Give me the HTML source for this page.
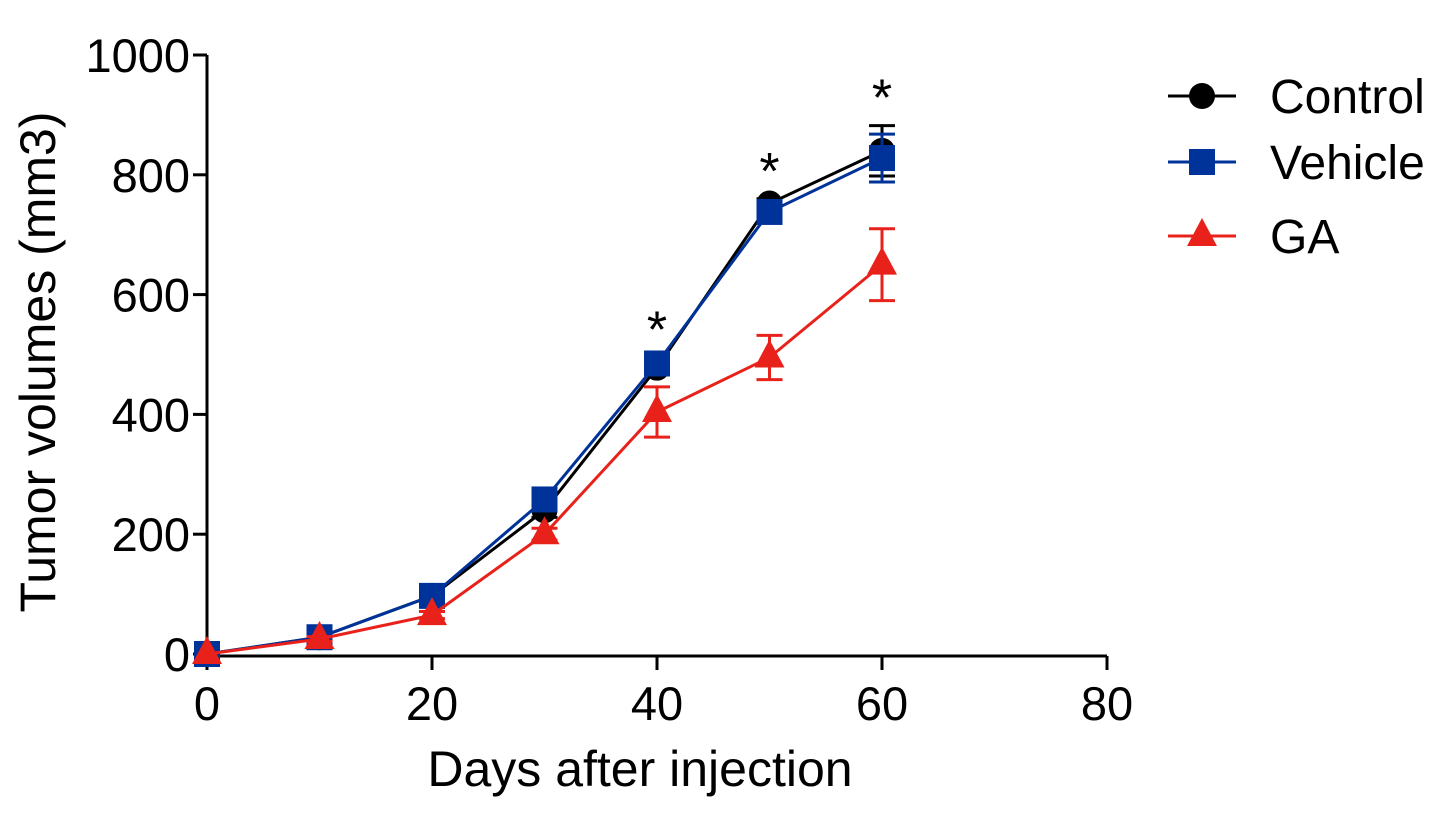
<!DOCTYPE html>
<html><head><meta charset="utf-8"><style>
body{margin:0;background:#fff;width:1446px;height:830px;overflow:hidden}
text{font-family:"Liberation Sans",Arial,sans-serif}
</style></head><body>
<svg id="chart" width="1446" height="830" xmlns="http://www.w3.org/2000/svg"></svg>
<script>
const days=[0,10,20,30,40,50,60];
const controlVals=[0,28,97,240,478,752,840];
const controlErr=[0,4,6,12,10,8,42];
const vehicleVals=[0,28,97,258,485,738,828];
const vehicleErr=[0,4,6,12,10,8,40];
const gaVals=[0,25,65,200,404,495,650];
const gaErr=[0,4,6,10,42,37,60];
const xTicks=[0,20,40,60,80];
const yTicks=[0,200,400,600,800,1000];
const starDays=[40,50,60];

const svg=document.getElementById('chart');
const NS='http://www.w3.org/2000/svg';
const X0=207,X1=1107,Y0=654,Y1=55;
const xs=v=>X0+(v-0)/80*(X1-X0);
const ys=v=>Y0-(v/1000)*(Y0-Y1);
function mk(tag,attrs,parent){const e=document.createElementNS(NS,tag);for(const k in attrs)e.setAttribute(k,attrs[k]);(parent||svg).appendChild(e);return e;}

const axes=mk('g',{});


mk('line',{x1:X0,y1:Y1,x2:X0,y2:Y0+2,stroke:'#000','stroke-width':3},axes);
mk('line',{x1:X0-2,y1:Y0+2,x2:X1,y2:Y0+2,stroke:'#000','stroke-width':3},axes);
yTicks.forEach(t=>{
  mk('line',{x1:X0-14,y1:ys(t),x2:X0,y2:ys(t),stroke:'#000','stroke-width':3},axes);
  const tx=mk('text',{x:X0-17,y:ys(t)+17,'text-anchor':'end','font-size':47},axes);
  tx.textContent=t;
  
  
});
xTicks.forEach(t=>{
  mk('line',{x1:xs(t),y1:Y0+2,x2:xs(t),y2:Y0+16,stroke:'#000','stroke-width':3},axes);
  const tx=mk('text',{x:xs(t),y:720,'text-anchor':'middle','font-size':47},axes);
  tx.textContent=t;
  
  
});
const xt=mk('text',{x:640,y:786,'text-anchor':'middle','font-size':50});
xt.textContent='Days after injection';


const yt=mk('text',{x:55,y:362,'text-anchor':'middle','font-size':50,transform:'rotate(-90 55 362)'});
yt.textContent='Tumor volumes (mm3)';



function marker(g,shape,cx,cy,color){
  if(shape==='circle')mk('circle',{cx:cx,cy:cy,r:13,fill:color},g);
  else if(shape==='square')mk('rect',{x:cx-13,y:cy-13,width:26,height:26,fill:color},g);
  else mk('polygon',{points:`${cx},${cy-18} ${cx+15},${cy+10} ${cx-15},${cy+10}`,fill:color},g);
}
function series(name,vals,errs,color,shape){
  const g=mk('g',{});
  
  
  days.forEach((d,i)=>{
    if(errs[i]>0){
      const x=xs(d),yt2=ys(vals[i]+errs[i]),yb=ys(vals[i]-errs[i]);
      mk('line',{x1:x,y1:yt2,x2:x,y2:yb,stroke:color,'stroke-width':3},g);
      mk('line',{x1:x-13,y1:yt2,x2:x+13,y2:yt2,stroke:color,'stroke-width':3},g);
      mk('line',{x1:x-13,y1:yb,x2:x+13,y2:yb,stroke:color,'stroke-width':3},g);
    }
  });
  mk('polyline',{points:days.map((d,i)=>xs(d)+','+ys(vals[i])).join(' '),fill:'none',stroke:color,'stroke-width':3},g);
  days.forEach((d,i)=>marker(g,shape,xs(d),ys(vals[i]),color));
}
series('control',controlVals,controlErr,'#000','circle');
series('vehicle',vehicleVals,vehicleErr,'#003399','square');
series('ga',gaVals,gaErr,'#e8221b','triangle');

starDays.forEach(d=>{
  const i=days.indexOf(d);
  const top=Math.max(controlVals[i]+controlErr[i],vehicleVals[i]+vehicleErr[i]);
  const s=mk('text',{x:xs(d),y:ys(top)-10,'text-anchor':'middle','font-size':52});
  s.textContent='*';
  
  
});

const legend=[['Control','#000','circle',96],['Vehicle','#003399','square',162],['GA','#e8221b','triangle',236]];
legend.forEach(l=>{
  const g=mk('g',{});
  
  
  mk('line',{x1:1168,y1:l[3],x2:1236,y2:l[3],stroke:l[1],'stroke-width':3},g);
  marker(g,l[2],1202,l[3],l[1]);
  const t=mk('text',{x:1270,y:l[3]+17,'font-size':48},g);
  t.textContent=l[0];
});
</script>
</body></html>
